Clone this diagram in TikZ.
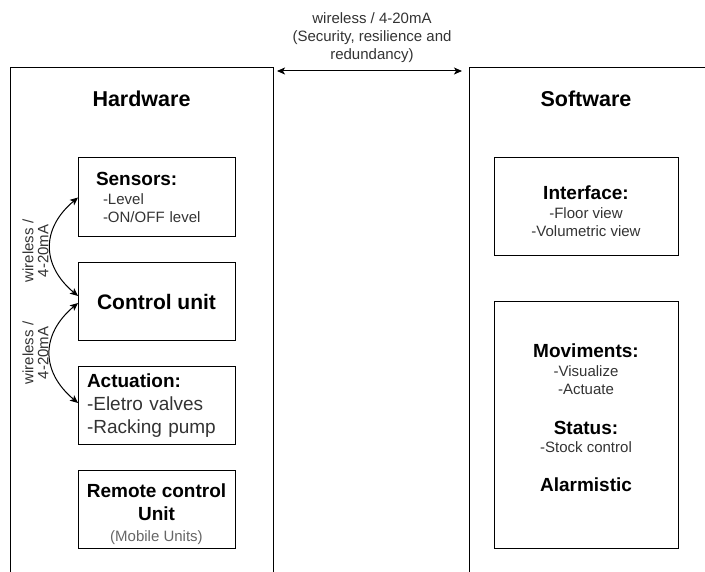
\documentclass[tikz,border=0pt]{standalone}
\usepackage{fontspec}
\setmainfont{Liberation Sans}
\usetikzlibrary{arrows.meta}

\newcommand{\boxtitle}[1]{{\fontsize{19}{23}\selectfont\bfseries\color{black}#1}}

\begin{document}
\begin{tikzpicture}[x=1pt,y=1pt,
  every node/.style={font=\fontsize{15}{18}\selectfont, text=black!80, outer sep=0pt},
  side/.style={draw, line width=1pt, minimum height=513pt},
  unit/.style={draw, line width=1pt, minimum width=157pt, minimum height=78pt},
  panel/.style={draw, line width=1pt, minimum width=184pt, align=center},
  link/.style={{Stealth[length=8pt,width=7pt,inset=2pt]}-{Stealth[length=8pt,width=7pt,inset=2pt]}, line width=1pt}]
  \useasboundingbox (0,0) rectangle (705,571);
  \clip (0,0) rectangle (705,571);

  % the two sides
  \node[side, minimum width=263pt] (hw) at (141.5,246.5) {};
  \node[side, minimum width=276pt] (sw) at (607,246.5) {};
  \node[font=\fontsize{21.5}{26}\selectfont\bfseries, text=black] (hwtitle) at (141.5,472) {Hardware};
  \node[font=\fontsize{21.5}{26}\selectfont\bfseries, text=black] (swtitle) at (586,472) {Software};

  \draw[link] ([xshift=4pt,yshift=-3pt]hw.north east) -- ([xshift=-7pt,yshift=-3pt]sw.north west);
  \node[align=center] (toplabel) at (372,533) {wireless / 4-20mA\\(Security, resilience and\\redundancy)};

  % hardware
  \node[unit, minimum height=79pt, text width=121pt, inner xsep=18pt, align=left] (sens) at (156.5,373.5)
    {\boxtitle{Sensors:}\\[1pt]\hspace*{7pt}-Level\\\hspace*{7pt}-ON/OFF level};
  \node[unit, font=\fontsize{21}{25}\selectfont\bfseries, text=black] (ctrl) at (156.5,269) {Control unit};
  \node[unit, text width=139pt, inner xsep=9pt, align=left, font=\fontsize{19}{23}\selectfont] (act) at (156.5,165)
    {\boxtitle{Actuation:}\\-Eletro valves\\-Racking pump};
  \node[unit, align=center] (remote) at (156.5,61)
    {\boxtitle{\rule{0pt}{22pt}Remote control}\\[5pt]\boxtitle{Unit}\\[3pt]{\color{black!60}(Mobile Units)}};

  \draw[link] (sens.west) to[out=220, in=140, looseness=1.25] ([yshift=6pt]ctrl.west);
  \draw[link] ([yshift=-1pt]ctrl.west) to[out=220, in=140, looseness=1.25] ([yshift=3pt]act.west);
  \node[rotate=90, align=center] (wl1) at (35.5,320) {wireless /\\[-3pt]4-20mA};
  \node[rotate=90, align=center] (wl2) at (35.5,218) {wireless /\\[-3pt]4-20mA};

  % software
  \node[panel, minimum height=98pt] (iface) at (586,364)
    {\boxtitle{\rule{0pt}{22pt}Interface:}\\[1pt]-Floor view\\-Volumetric view};
  \node[panel, minimum height=247pt] (mov) at (586,145.5)
    {\boxtitle{Moviments:}\\[1pt]-Visualize\\-Actuate\\[22pt]\boxtitle{Status:}\\-Stock control\\[21pt]\boxtitle{Alarmistic}\\[-2pt]\mbox{}};
\end{tikzpicture}
\end{document}
